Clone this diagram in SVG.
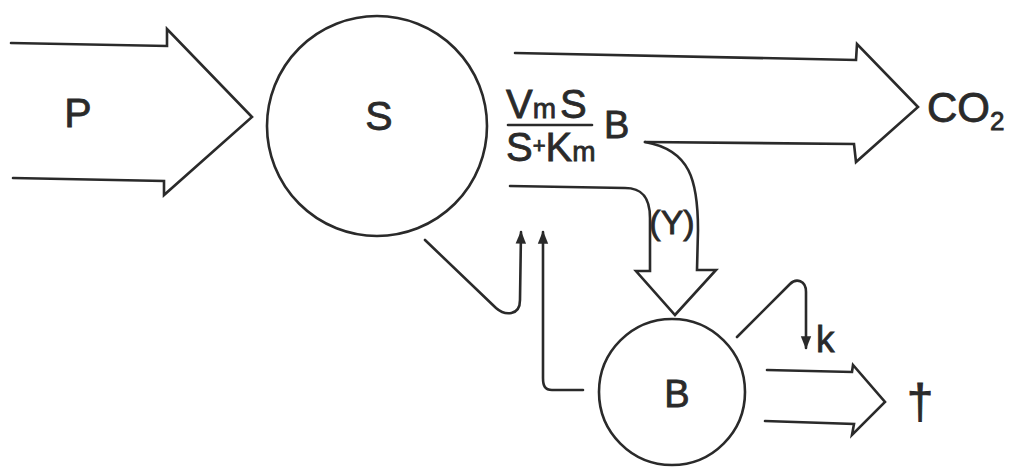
<svg xmlns="http://www.w3.org/2000/svg" width="1021" height="468" viewBox="0 0 1021 468">
<style>
.ln{fill:none;stroke:#2a2a2a;stroke-width:2.6;stroke-linejoin:miter;stroke-linecap:round}
.t{font-family:"Liberation Sans",Arial,sans-serif;fill:#2a2a2a;stroke:#2a2a2a;stroke-width:0.8}
</style>
<defs>
<marker id="ah" viewBox="0 0 10 10" refX="9" refY="5" markerWidth="5" markerHeight="5" orient="auto" markerUnits="strokeWidth">
<path d="M0,1 L10,5 L0,9 Z" fill="#2a2a2a"/>
</marker>
</defs>
<rect width="1021" height="468" fill="#fff"/>
<g id="node-S">
<circle class="ln" cx="377" cy="126" r="110"/>
<text class="t" x="379" y="130" font-size="41" text-anchor="middle">S</text>
</g>
<g id="node-B">
<circle class="ln" cx="672" cy="392" r="73"/>
<text class="t" x="677" y="407" font-size="38" text-anchor="middle">B</text>
</g>
<g id="node-P">
<text class="t" x="78" y="127" font-size="41" text-anchor="middle">P</text>
</g>
<g id="node-CO2">
<text class="t" x="927" y="122" font-size="42">CO<tspan font-size="26" dy="8">2</tspan></text>
</g>
<g id="node-death">
<text class="t" x="920" y="418" font-size="48" text-anchor="middle">†</text>
</g>
<g id="labels">
<text class="t" x="506" y="118" font-size="40">V<tspan font-size="28">m</tspan><tspan dx="4">S</tspan></text>
<line class="ln" x1="508" y1="125" x2="592" y2="125"/>
<text class="t" x="506" y="161" font-size="40">S<tspan font-size="22" dy="-8">+</tspan><tspan dy="8">K</tspan><tspan font-size="28">m</tspan></text>
<text class="t" x="604" y="138" font-size="38">B</text>
<text class="t" x="672" y="234" font-size="34" text-anchor="middle">(Y)</text>
<text class="t" x="816" y="352" font-size="37">k</text>
</g>
<g id="connectors">
<path class="ln" d="M11,43 L167,46 L167,29 L252,117 L164,195 L164,181 L13,178"/>
<path class="ln" d="M515,53 L856,60 L857,44 L918,107 L856,162 L854,144 L645,142"/>
<path class="ln" d="M645,142 C690,150 698,180 698,230 L697,270 L716,270 L675,315 L636,271 L650,271 L650,218 C650,195 640,188 625,188 L510,186"/>
<path class="ln" d="M425,240 L496,308 C505,316 520,316 520,300 L521,232" marker-end="url(#ah)"/>
<path class="ln" d="M583,390 L552,390 C545,390 543,386 543,378 L543,232" marker-end="url(#ah)"/>
<path class="ln" d="M737,337 L790,284 C796,278 806,280 806,292 L806,348" marker-end="url(#ah)"/>
<path class="ln" d="M767,370 L852,372 L853,365 L885,402 L852,435 L854,424 L765,421"/>
</g>
</svg>
